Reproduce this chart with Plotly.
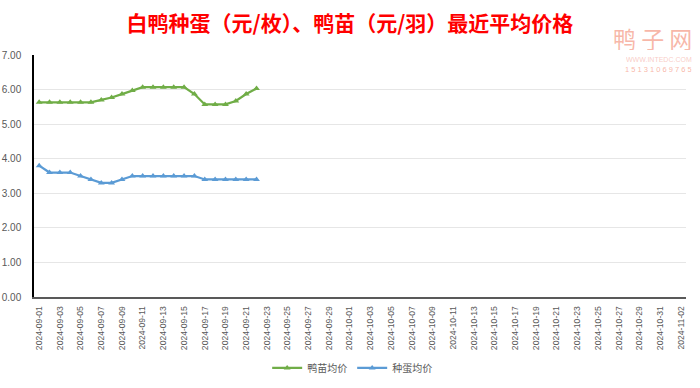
import plotly.graph_objects as go
import pandas as pd

dates = [d.strftime("%Y-%m-%d") for d in pd.date_range("2024-09-01", "2024-11-02")]
data_dates = dates[:22]
duckling = [5.63, 5.63, 5.63, 5.63, 5.63, 5.63, 5.70, 5.77, 5.87, 5.97, 6.07,
            6.07, 6.07, 6.07, 6.07, 5.87, 5.57, 5.57, 5.57, 5.67, 5.87, 6.03]
egg = [3.80, 3.60, 3.60, 3.60, 3.50, 3.40, 3.30, 3.30, 3.40, 3.50, 3.50,
       3.50, 3.50, 3.50, 3.50, 3.50, 3.40, 3.40, 3.40, 3.40, 3.40, 3.40]
tick_labels = dates[::2]
y_ticks = [0, 1, 2, 3, 4, 5, 6, 7]

title = "白鸭种蛋（元/枚）、鸭苗（元/羽）最近平均价格"
font_fam = "Liberation Sans, Noto Sans CJK SC, sans-serif"

fig = go.Figure()
fig.add_trace(go.Scatter(x=data_dates, y=duckling, name="鸭苗均价", mode="lines+markers",
                         line=dict(color="#70AD47", width=2.25),
                         marker=dict(symbol="triangle-up", size=6, color="#70AD47")))
fig.add_trace(go.Scatter(x=data_dates, y=egg, name="种蛋均价", mode="lines+markers",
                         line=dict(color="#5B9BD5", width=2.25),
                         marker=dict(symbol="triangle-up", size=6, color="#5B9BD5")))

fig.update_layout(
    width=700, height=388,
    margin=dict(l=34, r=14, t=55, b=91, autoexpand=False),
    paper_bgcolor="white", plot_bgcolor="white",
    font=dict(family=font_fam, color="#595959"),
    title=dict(text="<b>" + title + "</b>", x=0.5, xanchor="center", y=0.938, yanchor="middle",
               yref="container",
               font=dict(size=21, color="#FF0000", family="Noto Sans CJK SC")),
    legend=dict(orientation="h", x=0.488, xanchor="center", y=-0.293, yanchor="middle",
                font=dict(size=10, color="#595959", family="Noto Sans CJK SC"),
                itemwidth=30, traceorder="normal"),
    showlegend=True,
)
fig.update_xaxes(type="category", categoryorder="array", categoryarray=dates,
                 range=[-0.5, len(dates) - 0.5], automargin=False,
                 tickmode="array", tickvals=tick_labels, ticktext=tick_labels,
                 tickangle=-90, tickfont=dict(size=8.6, color="#595959"),
                 showgrid=False, showline=True, linecolor="#595959", linewidth=1.5,
                 ticks="", zeroline=False, ticklabelstandoff=4)
fig.update_yaxes(range=[0, 7], tickvals=y_ticks, tickformat=".2f", automargin=False,
                 tickfont=dict(size=10, color="#595959"),
                 showgrid=True, gridcolor="#E6E6E6", gridwidth=1,
                 showline=True, linecolor="#000000", linewidth=1.5,
                 ticks="", zeroline=False, ticklabelstandoff=9)

# watermark
fig.add_annotation(text="鸭 子 网", xref="paper", yref="paper", x=1.012, y=1.072,
                   xanchor="right", yanchor="middle", showarrow=False, height=25,
                   font=dict(size=23, color="rgba(245,160,140,0.75)", family="Noto Sans CJK SC"))
fig.add_annotation(text="WWW.INTEDC.COM", xref="paper", yref="paper", x=1.012, y=0.984,
                   xanchor="right", yanchor="middle", showarrow=False, height=8,
                   font=dict(size=7, color="rgba(245,170,160,0.6)"))
fig.add_annotation(text="1 5 1 3 1 0 6 9 7 6 5", xref="paper", yref="paper", x=1.012, y=0.942,
                   xanchor="right", yanchor="middle", showarrow=False, height=9,
                   font=dict(size=7.5, color="rgba(245,150,130,0.7)"))

fig.write_html("out.html", config={"displayModeBar": False},
               post_script="document.body.style.margin='0';")
